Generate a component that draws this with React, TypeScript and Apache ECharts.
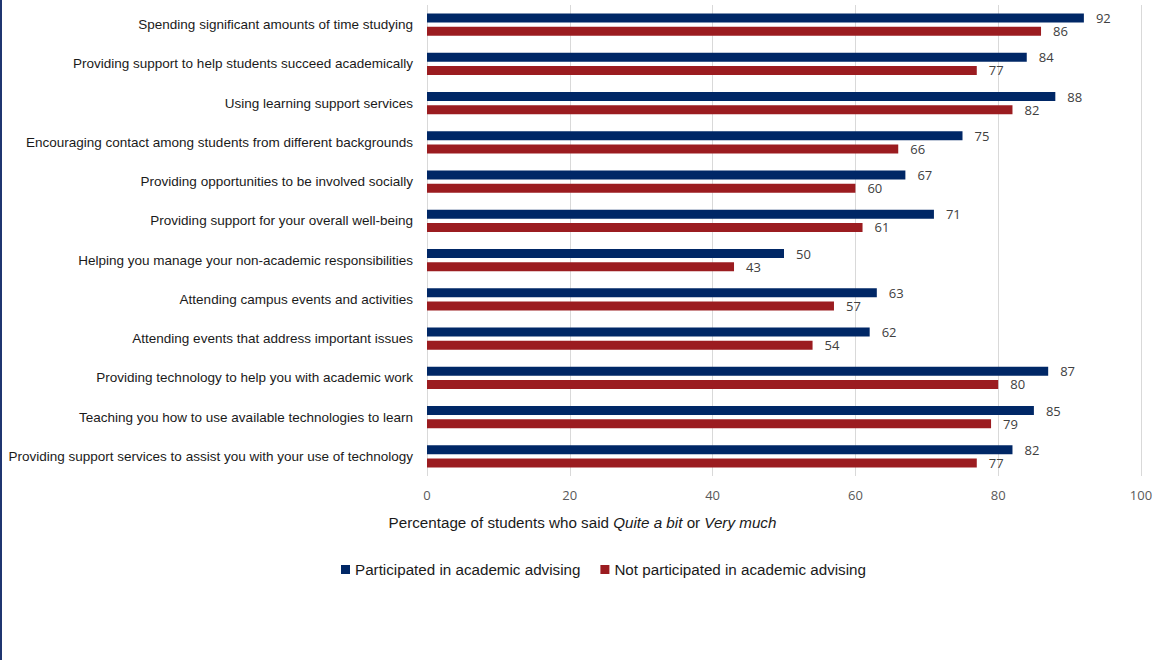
import React, { useEffect, useRef } from "react";
import * as echarts from "echarts";

const categories = [
  "Spending significant amounts of time studying",
  "Providing support to help students succeed academically",
  "Using learning support services",
  "Encouraging contact among students from different backgrounds",
  "Providing opportunities to be involved socially",
  "Providing support for your overall well-being",
  "Helping you manage your non-academic responsibilities",
  "Attending campus events and activities",
  "Attending events that address important issues",
  "Providing technology to help you with academic work",
  "Teaching you how to use available technologies to learn",
  "Providing support services to assist you with your use of technology",
];
const participated = [92, 84, 88, 75, 67, 71, 50, 63, 62, 87, 85, 82];
const notParticipated = [86, 77, 82, 66, 60, 61, 43, 57, 54, 80, 79, 77];
const seriesNames = [
  "Participated in academic advising",
  "Not participated in academic advising",
];
const xTicks = [0, 20, 40, 60, 80, 100];

const BLUE = "#002766";
const RED = "#9B1C20";

export default function App() {
  const ref = useRef<HTMLDivElement>(null);
  useEffect(() => {
    if (!ref.current) return;
    const chart = echarts.init(ref.current, null, { renderer: "svg" });
    const labelStyle = {
      show: true,
      position: "right" as const,
      distance: 12,
      color: "#404040",
      fontSize: 13,
      fontFamily: "Open Sans",
    };
    chart.setOption({
      animation: false,
      backgroundColor: "#ffffff",
      title: {
        left: "center",
        top: 510,
        text: "{n|Percentage of students who said }{i|Quite a bit}{n| or }{i|Very much}",
        textStyle: {
          fontWeight: "normal",
          rich: {
            n: {
              fontFamily: "Liberation Sans",
              fontSize: 15.2,
              fontWeight: "normal",
              color: "#1a1a1a",
            },
            i: {
              fontFamily: "Liberation Sans",
              fontSize: 15.2,
              fontWeight: "normal",
              fontStyle: "italic",
              color: "#1a1a1a",
            },
          },
        },
      },
      legend: {
        top: 557,
        left: 336,
        icon: "rect",
        itemWidth: 9,
        itemHeight: 9,
        itemGap: 20,
        textStyle: {
          fontFamily: "Liberation Sans",
          fontSize: 15.2,
          color: "#1a1a1a",
        },
        data: seriesNames,
      },
      grid: {
        left: 427,
        right: 24,
        top: 5,
        bottom: 184,
        containLabel: false,
        outerBoundsMode: "none",
      },
      xAxis: {
        type: "value",
        min: 0,
        max: 100,
        interval: 20,
        axisLine: { show: false },
        axisTick: { show: false },
        splitLine: { show: true, lineStyle: { color: "#d9d9d9", width: 1 } },
        axisLabel: {
          margin: 12,
          color: "#595959",
          fontSize: 13,
          fontFamily: "Open Sans",
          formatter: (v: number) => (xTicks.includes(v) ? String(v) : ""),
        },
      },
      yAxis: {
        type: "category",
        inverse: true,
        data: categories,
        axisLine: { show: false },
        axisTick: { show: false },
        axisLabel: {
          margin: 14,
          color: "#1a1a1a",
          fontSize: 13.5,
          fontFamily: "Liberation Sans",
        },
      },
      series: [
        {
          name: seriesNames[0],
          type: "bar",
          data: participated,
          barWidth: 9,
          barGap: "45%",
          itemStyle: { color: BLUE },
          label: labelStyle,
        },
        {
          name: seriesNames[1],
          type: "bar",
          data: notParticipated,
          barWidth: 9,
          itemStyle: { color: RED },
          label: labelStyle,
        },
      ],
    });
    return () => chart.dispose();
  }, []);
  return (
    <div
      style={{
        position: "fixed",
        left: 0,
        top: 0,
        width: 1165,
        height: 660,
        background: "#fff",
      }}
    >
      <div
        style={{
          position: "absolute",
          left: 0,
          top: 0,
          width: 2,
          height: 660,
          background: "#1F3570",
          zIndex: 2,
        }}
      />
      <div ref={ref} style={{ position: "absolute", left: 0, top: 0, width: 1165, height: 660 }} />
    </div>
  );
}
